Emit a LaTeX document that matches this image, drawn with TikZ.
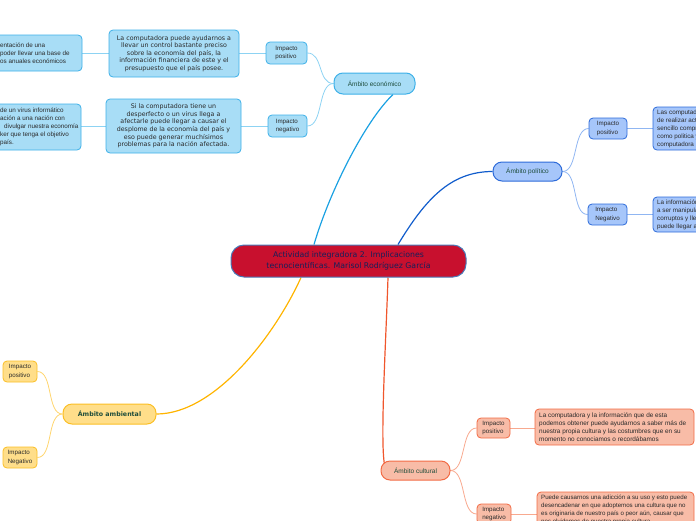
\documentclass[tikz,border=0pt]{standalone}
\usepackage{fontspec}
\setmainfont{Liberation Sans}
\newfontfamily\verd{DejaVu Sans}
\usetikzlibrary{calc}
\pgfdeclarelayer{bg}
\pgfsetlayers{bg,main}
\definecolor{ctrfill}{HTML}{C8102E}
\definecolor{ctrdraw}{HTML}{4A79B8}
\definecolor{ctrtext}{HTML}{16205A}
\definecolor{ecofill}{HTML}{A8DDF6}
\definecolor{ecodraw}{HTML}{3DB0E8}
\definecolor{ecoline}{HTML}{1BA1E2}
\definecolor{ecosub}{HTML}{8DD3F3}
\definecolor{polfill}{HTML}{A6C6FA}
\definecolor{poldraw}{HTML}{2E6BD9}
\definecolor{polline}{HTML}{105CCC}
\definecolor{polsub}{HTML}{90B6F2}
\definecolor{culfill}{HTML}{F8BCA7}
\definecolor{culdraw}{HTML}{F26B45}
\definecolor{culline}{HTML}{F0562C}
\definecolor{culsub}{HTML}{F8A98F}
\definecolor{ambfill}{HTML}{FFDE8A}
\definecolor{ambdraw}{HTML}{FBBF24}
\definecolor{ambline}{HTML}{FFB400}
\definecolor{ambsub}{HTML}{FFD56E}
\definecolor{lbltext}{HTML}{1E4D3B}
\definecolor{txtgray}{HTML}{2A2A2A}
\tikzset{
  box/.style={draw, rounded corners=4pt, line width=0.8pt, inner sep=0pt, align=center, text=txtgray},
  catbox/.style={box, rounded corners=9pt, line width=1pt, text=lbltext, font=\fontsize{6.5}{8}\selectfont},
  impbox/.style={box, align=left, font=\fontsize{6.2}{8.5}\selectfont},
  verdtxt/.style={font=\verd\fontsize{6.3}{7.6}\selectfont},
  smalltxt/.style={font=\fontsize{6.4}{8}\selectfont, align=left, inner sep=0pt, text=txtgray},
  eco/.style={fill=ecofill, draw=ecodraw},
  pol/.style={fill=polfill, draw=poldraw},
  cul/.style={fill=culfill, draw=culdraw},
  amb/.style={fill=ambfill, draw=ambdraw},
  mainln/.style={line width=1.2pt},
  subln/.style={line width=0.8pt},
}
\begin{document}
\begin{tikzpicture}[x=1pt,y=-1pt]
\useasboundingbox (0,0) rectangle (696,520);
\clip (0,0) rectangle (696,520);

% ---------- central
\node[box, fill=ctrfill, draw=ctrdraw, line width=1pt, rounded corners=13pt, minimum width=235, minimum height=32, text=ctrtext, font=\verd\fontsize{7.8}{11.5}\selectfont] (ctr) at (348.5,261) {Actividad integradora 2. Implicaciones\\tecnocientíficas. Marisol Rodríguez García};

% ---------- economico
\node[catbox, eco, minimum width=81, minimum height=21] (eco) at (374.5,83.5) {Ámbito económico};
\node[impbox, eco, minimum width=41, minimum height=22] (ep) at (286.5,53) {Impacto\\positivo};
\node[impbox, eco, minimum width=39, minimum height=22] (en) at (287.5,126) {Impacto\\negativo};
\node[box, eco, verdtxt, minimum width=130, minimum height=47] (et1) at (174,53.5) {La computadora puede ayudarnos a\\llevar un control bastante preciso\\sobre la economía del país, la\\información financiera de este y el\\presupuesto que el país posee.};
\node[box, eco, verdtxt, minimum width=135, minimum height=54] (et2) at (173.5,126) {Si la computadora tiene un\\desperfecto o un virus llega a\\afectarle puede llegar a causar el\\desplome de la economía del país y\\eso puede generar muchísimos\\problemas para la nación afectada.};
\node[box, eco, minimum width=92, minimum height=36] (el1) at (36,53) {};
\node[smalltxt, anchor=west, font=\fontsize{6.3}{8}\selectfont] (el1t) at (0,53) {entación de una\\poder llevar una base de\\os anuales económicos};
\node[box, eco, minimum width=91, minimum height=46] (el2) at (35.5,127) {};
\node[smalltxt, anchor=west, font=\fontsize{6.3}{8}\selectfont] (el2t) at (0,127) {de un virus informático\\ación a una nación con\\\hspace{4pt}divulgar nuestra economía\\ker que tenga el objetivo\\país.};

% ---------- politico
\node[catbox, pol, minimum width=69, minimum height=19] (pol) at (527.5,171.5) {Ámbito político};
\node[impbox, pol, minimum width=38, minimum height=21] (pp) at (608,128.5) {Impacto\\positivo};
\node[impbox, pol, minimum width=39, minimum height=21] (pn) at (607.5,214.5) {Impacto\\Negativo};
\node[box, pol, minimum width=60, minimum height=43] (pt1) at (683,128.5) {};
\node[smalltxt, anchor=west, font=\fontsize{6.3}{8}\selectfont] (pt1t) at (657,128.5) {Las computadoras permiten\\de realizar actividades\\sencillo comprender lo\\como politica y la\\computadora};
\node[box, pol, minimum width=60, minimum height=35] (pt2) at (683,214.5) {};
\node[smalltxt, anchor=west, font=\fontsize{6.3}{8}\selectfont] (pt2t) at (657,214.5) {La información puede llegar\\a ser manipulada por\\corruptos y llevar\\puede llegar a};

% ---------- cultural
\node[catbox, cul, minimum width=69, minimum height=19] (cul) at (415.5,470.5) {Ámbito cultural};
\node[impbox, cul, minimum width=33, minimum height=20] (cp) at (493.5,428) {Impacto\\positivo};
\node[impbox, cul, minimum width=34, minimum height=20] (cn) at (494,514) {Impacto\\negativo};
\node[box, cul, minimum width=159, minimum height=36] (ct1) at (614.5,427) {};
\node[smalltxt, anchor=west] (ct1t) at (539,427) {La computadora y la información que de esta\\podemos obtener puede ayudarnos a saber más de\\nuestra propia cultura y las costumbres que en su\\momento no conociamos o recordábamos};
\node[box, cul, minimum width=157, minimum height=48] (ct2) at (615.5,516) {};
\node[smalltxt, anchor=north west, font=\fontsize{6.15}{8}\selectfont] (ct2t) at (541,494.5) {Puede causarnos una adicción a su uso y esto puede\\desencadenar en que adoptemos una cultura que no\\es originaria de nuestro país o peor aún, causar que\\nos olvidemos de nuestra propia cultura};

% ---------- ambiental
\node[catbox, amb, minimum width=93, minimum height=20, font=\verd\bfseries\fontsize{6.3}{8}\selectfont] (amb) at (109.5,414) {Ámbito ambiental};
\node[impbox, amb, minimum width=34, minimum height=21] (ap) at (20,371.5) {Impacto\\positivo};
\node[impbox, amb, minimum width=34, minimum height=21] (an) at (20,457.5) {Impacto\\Negativo};

% ---------- connectors
\begin{pgfonlayer}{bg}
\draw[mainln, ecoline] ($(ctr.north)+(-34.5,0)$) .. controls (330,190) and (366,120) .. ($(eco.south)+(18.5,0)$);
\draw[mainln, polline] ($(ctr.north)+(49.5,0)$) .. controls (425,200) and (450,171.5) .. (pol.west);
\draw[mainln, ambline] ($(ctr.south)+(-47.5,0)$) .. controls (275,335) and (215,414) .. (amb.east);
\draw[mainln, culline] ($(ctr.south)+(39.5,0)$) .. controls (386,340) and (380,440) .. ($(cul.west)+(4,-6)$);

\draw[subln, ecosub] (eco.west) .. controls +(-16,0) and +(16,0) .. (ep.east);
\draw[subln, ecosub] (eco.west) .. controls +(-16,0) and +(16,0) .. (en.east);
\draw[subln, ecosub] (ep.west) -- (et1.east |- ep.west);
\draw[subln, ecosub] (en.west) -- (et2.east |- en.west);
\draw[subln, ecosub] (et1.west) -- (el1.east |- et1.west);
\draw[subln, ecosub] (et2.west) -- (el2.east |- et2.west);

\draw[subln, polsub] (pol.east) .. controls +(16,0) and +(-16,0) .. (pp.west);
\draw[subln, polsub] (pol.east) .. controls +(16,0) and +(-16,0) .. (pn.west);
\draw[subln, polsub] (pp.east) -- (pt1.west |- pp.east);
\draw[subln, polsub] (pn.east) -- (pt2.west |- pn.east);

\draw[subln, culsub] (cul.east) .. controls +(16,0) and +(-16,0) .. (cp.west);
\draw[subln, culsub] (cul.east) .. controls +(16,0) and +(-16,0) .. (cn.west);
\draw[subln, culsub] (cp.east) -- (ct1.west |- cp.east);
\draw[subln, culsub] (cn.east) -- (ct2.west |- cn.east);

\draw[subln, ambsub] (amb.west) .. controls +(-16,0) and +(16,0) .. (ap.east);
\draw[subln, ambsub] (amb.west) .. controls +(-16,0) and +(16,0) .. (an.east);
\end{pgfonlayer}
\end{tikzpicture}
\end{document}
